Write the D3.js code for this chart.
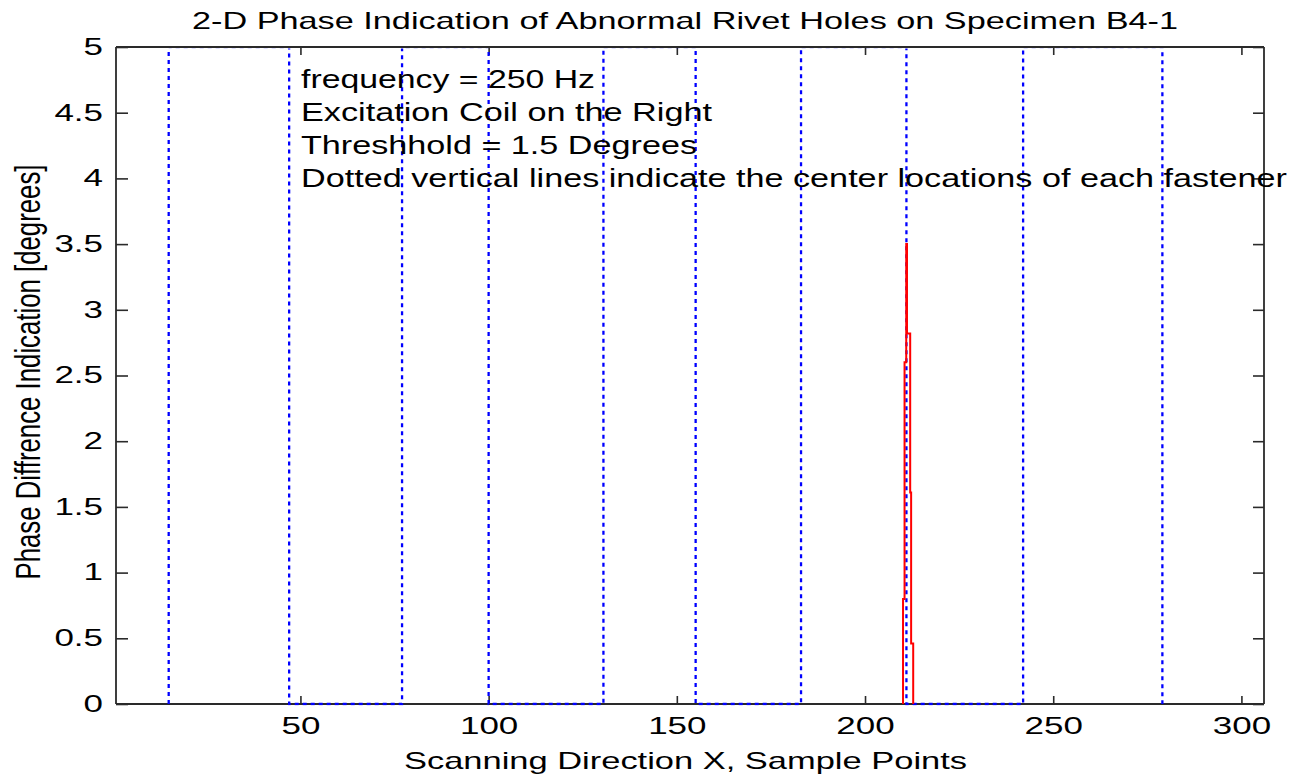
<!DOCTYPE html>
<html><head><meta charset="utf-8">
<script src="https://cdn.jsdelivr.net/npm/d3@7"></script>
<style>
body{margin:0;background:#fff}
svg{display:block}
text{font-family:"Liberation Sans",Arial,sans-serif;fill:#000}
</style>
</head><body>
<svg id="c" width="1305" height="775"></svg>
<script>
// ---- data ----
const xTicks = [50, 100, 150, 200, 250, 300];
const yTicks = [0, 0.5, 1, 1.5, 2, 2.5, 3, 3.5, 4, 4.5, 5];
const yTickLabels = ["0","0.5","1","1.5","2","2.5","3","3.5","4","4.5","5"];
const fastenerX = [15, 47, 77, 100, 130.5, 155, 183, 211, 242, 279];
const spikeX = [210.1, 210.1, 210.5, 210.5, 210.95, 210.95, 211.15, 211.15, 212.0, 212.0, 212.25, 212.25, 212.8, 212.8];
const spikeY = [0, 0.8, 0.8, 2.6, 2.6, 3.5, 3.5, 2.82, 2.82, 1.61, 1.61, 0.46, 0.46, 0];
const titleText = "2-D Phase Indication of Abnormal Rivet Holes on Specimen B4-1";
const xLabel = "Scanning Direction X, Sample Points";
const yLabel = "Phase Diffrence Indication [degrees]";
const notes = ["frequency = 250 Hz", "Excitation Coil on the Right", "Threshhold = 1.5 Degrees",
  "Dotted vertical lines indicate the center locations of each fastener"];
const noteWidths = [294, 411, 396, 986];

// ---- layout ----
const L = 116, R = 1264, T = 47, B = 704;
const x = d3.scaleLinear().domain([1, 306]).range([L, R]);
const y = d3.scaleLinear().domain([0, 5]).range([B, T]);
const svg = d3.select("#c");
const STRETCH = 1.52;
const axisColor = "#2a2a2a";

// bottom + left frame lines (under data)
svg.append("line").attr("x1", L).attr("x2", R).attr("y1", B).attr("y2", B)
  .attr("stroke", axisColor).attr("stroke-width", 1.8);
svg.append("line").attr("x1", L).attr("x2", L).attr("y1", T).attr("y2", B)
  .attr("stroke", axisColor).attr("stroke-width", 1.8);

// axes with inward ticks
const gx = svg.append("g").attr("transform", `translate(0,${B})`)
  .call(d3.axisBottom(x).tickValues(xTicks).tickSizeInner(-8).tickSizeOuter(0).tickPadding(14).tickFormat(d3.format("d")));
const gy = svg.append("g").attr("transform", `translate(${L},0)`)
  .call(d3.axisLeft(y).tickValues(yTicks).tickSizeInner(-12).tickSizeOuter(0).tickPadding(13)
    .tickFormat((d, i) => yTickLabels[i]));
const gt = svg.append("g").attr("transform", `translate(0,${T})`)
  .call(d3.axisTop(x).tickValues(xTicks).tickSizeInner(-8).tickSizeOuter(0).tickFormat(""));
const gr = svg.append("g").attr("transform", `translate(${R},0)`)
  .call(d3.axisRight(y).tickValues(yTicks).tickSizeInner(-11).tickSizeOuter(0).tickFormat(""));
[gx, gy, gt, gr].forEach(g => {
  g.select(".domain").remove();
  g.selectAll(".tick line").attr("stroke", axisColor).attr("stroke-width", 1.6);
  g.selectAll("text").attr("font-size", 23).attr("font-family", '"Liberation Sans",Arial,sans-serif').attr("fill", "#000");
});
[gx, gy].forEach(g => g.selectAll("text").each(function () {
  const w = this.getComputedTextLength();
  d3.select(this).attr("textLength", w * STRETCH).attr("lengthAdjust", "spacingAndGlyphs");
}));
gy.selectAll("text").attr("x", -13);

// clip for plotted data
svg.append("clipPath").attr("id", "clip").append("rect")
  .attr("x", L).attr("y", T + 1.5).attr("width", R - L).attr("height", B - T);

const plot = svg.append("g").attr("clip-path", "url(#clip)");

// fastener zigzag dotted line
const fPts = [];
fastenerX.forEach((fx, i) => {
  if (i % 2 === 0) { fPts.push([fx, 0], [fx, 5]); } else { fPts.push([fx, 5], [fx, 0]); }
});
const line = d3.line().x(d => x(d[0])).y(d => y(d[1]));
plot.append("path").attr("d", line(fPts)).attr("fill", "none")
  .attr("stroke", "#0000ff").attr("stroke-width", 2.3).attr("stroke-dasharray", "4,4");

// red spike
const sPts = spikeX.map((v, i) => [v, spikeY[i]]);
plot.append("path").attr("d", line(sPts)).attr("fill", "none")
  .attr("stroke", "#ff0000").attr("stroke-width", 2);

// top + right frame lines (over data)
svg.append("line").attr("x1", L).attr("x2", R).attr("y1", T).attr("y2", T)
  .attr("stroke", axisColor).attr("stroke-width", 1.8);
svg.append("line").attr("x1", R).attr("x2", R).attr("y1", T).attr("y2", B)
  .attr("stroke", axisColor).attr("stroke-width", 1.8);

// title
svg.append("text").attr("x", 192).attr("y", 29).attr("font-size", 24)
  .attr("textLength", 986).attr("lengthAdjust", "spacingAndGlyphs").text(titleText);

// x label
svg.append("text").attr("x", 404).attr("y", 769).attr("font-size", 24)
  .attr("textLength", 563).attr("lengthAdjust", "spacingAndGlyphs").text(xLabel);

// y label
svg.append("text").attr("transform", `translate(40,372) scale(${STRETCH},1) rotate(-90)`)
  .attr("text-anchor", "middle").attr("font-size", 23)
  .attr("textLength", 415).attr("lengthAdjust", "spacingAndGlyphs").text(yLabel);

// notes
notes.forEach((t, i) => {
  svg.append("text").attr("x", 301).attr("y", 88 + i * 33).attr("font-size", 25)
    .attr("textLength", noteWidths[i]).attr("lengthAdjust", "spacingAndGlyphs").text(t);
});
</script>
</body></html>
